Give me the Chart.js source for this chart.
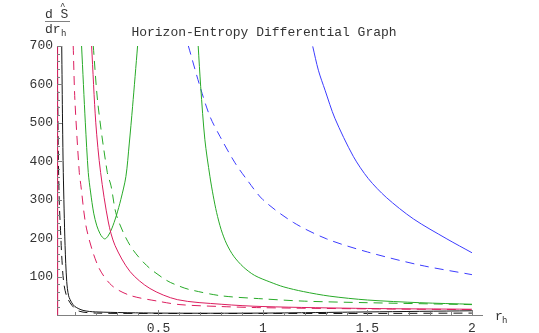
<!DOCTYPE html>
<html>
<head>
<meta charset="utf-8">
<script src="https://cdn.jsdelivr.net/npm/chart.js@4"></script>
<style>
  html, body { margin: 0; padding: 0; background: #fff; }
  canvas { display: block; }
</style>
</head>
<body>
<canvas id="chart" width="539" height="333"></canvas>
<script>
// tick labels
const xTicks = [0.5, 1, 1.5, 2];
const yTicks = [100, 200, 300, 400, 500, 600, 700];

// curves (r_h, dS/dr_h)
const pinkSteepX = [0.0172, 0.0176];
const pinkSteepY = [700, 0];

const blackDashX = [0.016, 0.02, 0.025, 0.033, 0.037, 0.046, 0.06, 0.086, 0.12, 0.2, 0.5, 1, 1.5, 2];
const blackDashY = [700, 450, 300, 200, 154, 87, 50, 25, 10, 5, 4, 4, 4, 5];

const blackSolidX = [0.037, 0.041, 0.0445, 0.053, 0.061, 0.07, 0.085, 0.1, 0.139, 0.2, 0.5, 1, 1.5, 2];
const blackSolidY = [700, 500, 371, 181, 87, 50, 32, 22, 12, 8, 5, 5, 8, 11];

const pinkDashX = [0.092, 0.1, 0.121, 0.128, 0.156, 0.212, 0.276, 0.364, 0.507, 0.603, 0.8, 1, 1.5, 2];
const pinkDashY = [700, 560, 371, 340, 224, 126, 77, 51, 35, 27, 22, 19, 16, 14];

const pinkSolidX = [0.18, 0.2, 0.223, 0.26, 0.292, 0.364, 0.459, 0.59, 0.8, 1, 1.5, 2];
const pinkSolidY = [700, 500, 371, 242, 181, 113, 69, 40, 28, 22, 17, 15];

const greenDashX = [0.188, 0.21, 0.255, 0.273, 0.3, 0.364, 0.443, 0.539, 0.6, 0.65, 0.8, 1, 1.2, 1.5, 2];
const greenDashY = [700, 550, 371, 336, 258, 181, 129, 90, 75, 66, 50, 42, 36, 32, 27];

const greenUX = [0.132, 0.15, 0.164, 0.175, 0.19, 0.205, 0.22, 0.232, 0.244, 0.258, 0.276, 0.298, 0.32, 0.344, 0.36, 0.376, 0.4];
const greenUY = [700, 500, 371, 320, 265, 232, 212, 202, 198, 205, 224, 258, 301, 360, 445, 542, 700];

const greenSolidX = [0.69, 0.702, 0.722, 0.746, 0.762, 0.778, 0.8, 0.826, 0.86, 0.906, 0.96, 1.033, 1.1, 1.193, 1.32, 1.5, 1.75, 2];
const greenSolidY = [700, 594, 456, 361, 310, 267, 222, 185, 153, 125, 103, 86, 73, 61, 49, 39, 32, 28];

const blueDashX = [0.643, 0.699, 0.746, 0.794, 0.866, 0.922, 1.0, 1.145, 1.305, 1.5, 1.75, 2];
const blueDashY = [700, 594, 517, 465, 396, 353, 300, 241, 198, 164, 130, 105];

const blueSolidX = [1.238, 1.265, 1.297, 1.344, 1.432, 1.504, 1.59, 1.72, 1.88, 2];
const blueSolidY = [699, 637, 585, 512, 413, 355, 306, 250, 198, 162];

const PINK = 'rgb(220,30,95)';
const GREEN = 'rgb(40,170,40)';
const BLUE = 'rgb(60,60,255)';
const BLACK = 'rgb(20,20,20)';
const DASH = [9, 6];
const FONT = '"Liberation Mono", "DejaVu Sans Mono", monospace';

const pts = (xs, ys) => xs.map((x, i) => ({ x, y: ys[i] }));
const line = (label, xs, ys, color, dashed) => ({
  label, data: pts(xs, ys), borderColor: color, borderWidth: 1,
  borderDash: dashed ? DASH : [], showLine: true, pointRadius: 0,
  tension: 0.3, fill: false
});

// Mathematica-style inward ticks + title/axis labels
const decorations = {
  id: 'decorations',
  afterDraw(chart) {
    const { ctx, chartArea: a, scales: { x, y } } = chart;
    ctx.save();
    ctx.strokeStyle = '#808080';
    ctx.lineWidth = 1;
    ctx.beginPath();
    for (let i = 1; i <= 20; i++) {
      const px = Math.round(x.getPixelForValue(i / 10)) + 0.5;
      const len = i % 5 === 0 ? 5 : 3;
      ctx.moveTo(px, a.bottom); ctx.lineTo(px, a.bottom - len);
    }
    for (let i = 1; i <= 35; i++) {
      const py = Math.round(y.getPixelForValue(i * 20)) + 0.5;
      const len = i % 5 === 0 ? 5 : 3;
      ctx.moveTo(a.left, py); ctx.lineTo(a.left + len, py);
    }
    ctx.stroke();

    ctx.fillStyle = '#333';
    ctx.textBaseline = 'alphabetic';
    ctx.textAlign = 'center';
    ctx.font = '13px ' + FONT;
    ctx.fillText('Horizon-Entropy Differential Graph', 264, 36);

    // y label: d S-hat over d r_h
    ctx.textAlign = 'left';
    ctx.font = '13px ' + FONT;
    ctx.fillText('d S', 45, 18);
    ctx.font = '9px ' + FONT;
    ctx.fillText('^', 60, 9);
    ctx.font = '13px ' + FONT;
    ctx.fillText('dr', 45, 33);
    ctx.font = '9px ' + FONT;
    ctx.fillText('h', 61, 36);
    ctx.beginPath();
    ctx.moveTo(45, 21.5); ctx.lineTo(70, 21.5);
    ctx.stroke();

    // x label r_h
    ctx.font = '13px ' + FONT;
    ctx.fillText('r', 495, 320);
    ctx.font = '9px ' + FONT;
    ctx.fillText('h', 502, 323);
    ctx.restore();
  }
};

new Chart(document.getElementById('chart'), {
  type: 'scatter',
  data: {
    datasets: [
      line('pink steep', pinkSteepX, pinkSteepY, PINK, false),
      line('black dashed', blackDashX, blackDashY, BLACK, true),
      line('black solid', blackSolidX, blackSolidY, BLACK, false),
      line('pink dashed', pinkDashX, pinkDashY, PINK, true),
      line('pink solid', pinkSolidX, pinkSolidY, PINK, false),
      line('green dashed', greenDashX, greenDashY, GREEN, true),
      line('green U', greenUX, greenUY, GREEN, false),
      line('green solid', greenSolidX, greenSolidY, GREEN, false),
      line('blue dashed', blueDashX, blueDashY, BLUE, true),
      line('blue solid', blueSolidX, blueSolidY, BLUE, false)
    ]
  },
  options: {
    responsive: false,
    animation: false,
    layout: { padding: { left: 0, top: 46, right: 57, bottom: 0 } },
    plugins: { legend: { display: false }, tooltip: { enabled: false } },
    scales: {
      x: {
        type: 'linear', min: 0.0144, max: 2.048,
        afterBuildTicks: s => { s.ticks = xTicks.map(v => ({ value: v })); },
        afterFit: s => { s.height = 18; },
        grid: { display: false, drawTicks: false },
        border: { display: true, color: '#808080', width: 1 },
        ticks: { color: '#333', padding: 6, font: { family: FONT, size: 13 },
                 callback: v => String(v), maxRotation: 0 }
      },
      y: {
        type: 'linear', min: 0, max: 700,
        afterBuildTicks: s => { s.ticks = yTicks.map(v => ({ value: v })); },
        afterFit: s => { s.width = 57; },
        grid: { display: false, drawTicks: false },
        border: { display: true, color: '#808080', width: 1 },
        ticks: { color: '#333', padding: 4, font: { family: FONT, size: 13 } }
      }
    }
  },
  plugins: [decorations]
});
</script>
</body>
</html>
